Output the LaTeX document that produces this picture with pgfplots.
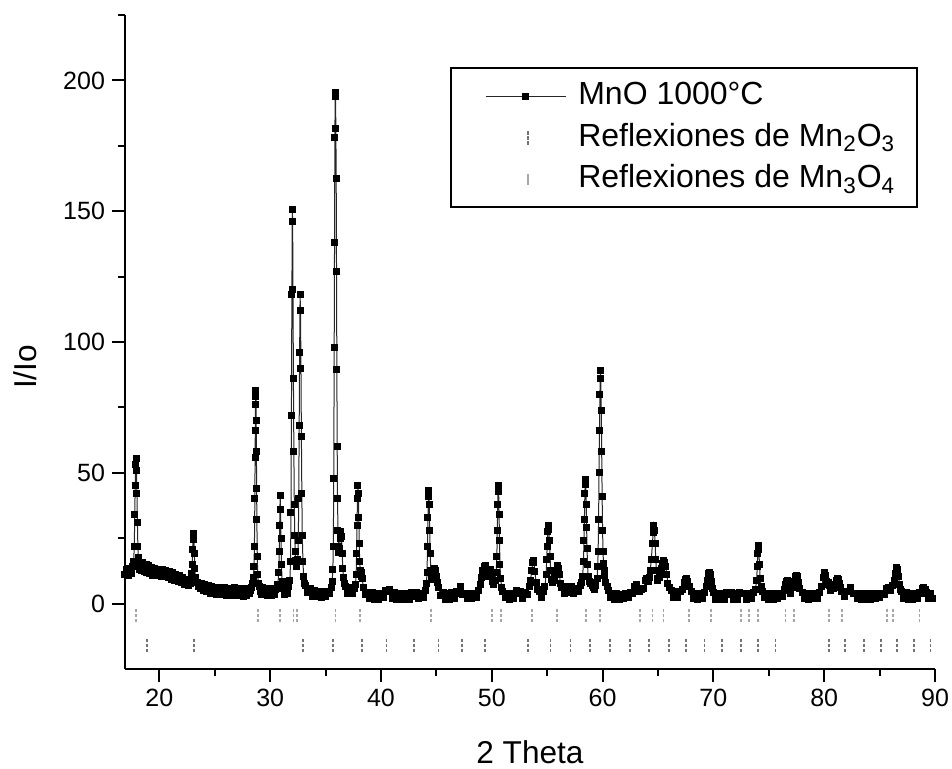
\documentclass[border=0pt]{standalone}
\usepackage{fontspec}
\setmainfont{Liberation Sans}
\usepackage{pgfplots}
\pgfplotsset{compat=1.18}
\pgfplotsset{mnoleg/.style={legend image code/.code={\path (-7pt,0pt); \draw[mark repeat=2,mark phase=2,##1] plot coordinates {(0pt,0pt) (20pt,0pt) (40pt,0pt)};}}}
\begin{document}
\begin{tikzpicture}
\begin{axis}[name=ax, scale only axis, width=405pt, height=327pt,
 xmin=16.9, xmax=90, ymin=-25, ymax=225,
 axis x line*=bottom, axis y line*=left,
 axis line style={line width=1.1pt},
 xtick={20,30,...,90}, minor xtick={25,35,...,85},
 ytick={0,50,...,200}, minor ytick={25,75,...,225},
 tick align=outside, major tick length=6.5pt, minor tick length=3.5pt,
 tick style={line width=1pt, black},
 /pgf/number format/assume math mode=true,
 ticklabel style={font=\fontsize{12.5}{14}\selectfont},
 xlabel={2 Theta}, ylabel={I/Io},
 label style={font=\fontsize{15.8}{18}\selectfont},
 xlabel style={at={(axis description cs:0.5,0)}, anchor=north, yshift=-35.5pt, inner sep=0pt},
 ylabel style={at={(axis description cs:-0.1383,0.462)}, anchor=north, inner sep=0pt},
 legend cell align=left,
 legend style={at={(axis description cs:0.401,0.920)}, anchor=north west, draw=black, line width=1pt,
   font=\fontsize{16}{19}\selectfont, inner xsep=10pt, inner ysep=5.75pt, row sep=4.25pt, column sep=5pt,
   nodes={inner sep=1pt, text height=11.5pt, text depth=3pt}},
]
\addplot[black!85, line width=0.5pt, mark=square*, mark size=1.5pt, mark options={solid, fill=black, draw=black}, mnoleg]
coordinates {
(16.9,11.0)(17.0,13.2)(17.1,12.1)(17.2,10.9)(17.3,13.6)(17.4,12.4)(17.5,11.6)(17.6,14.2)(17.68,16.2)(17.74,22)(17.78,34)(17.82,45)(17.86,53)(17.9,55.3)(17.94,51)(17.98,42)(18.02,31)(18.06,22)(18.1,17.5)(18.16,15.4)
(18.2,15.6)(18.25,13.0)(18.3,14.4)(18.4,12.6)(18.45,15.8)(18.5,13.5)(18.6,14.9)(18.65,12.2)(18.7,13.8)(18.8,15.0)(18.85,12.0)(18.9,13.2)(19.0,14.4)(19.1,11.4)(19.2,12.8)(19.3,13.9)(19.4,10.9)(19.5,12.2)(19.6,13.6)(19.7,11.0)(19.8,12.4)(19.9,10.6)(20.0,13.2)(20.1,11.8)(20.2,10.4)(20.3,12.9)(20.4,11.5)(20.5,10.2)(20.6,12.6)(20.7,11.0)(20.8,9.9)(20.9,12.2)(21.0,10.8)(21.1,9.4)(21.2,11.8)(21.3,10.2)(21.4,8.9)(21.5,11.2)(21.6,9.6)(21.7,8.4)(21.8,10.6)(21.9,9.0)(22.0,7.9)(22.1,10.0)(22.2,8.4)(22.3,7.2)(22.4,9.4)(22.5,8.0)(22.6,6.9)(22.7,9.0)(22.8,7.8)
(22.9,11.5)(22.96,15)(23.0,20.5)(23.04,25)(23.08,26.7)(23.12,24.5)(23.16,19)(23.2,13.5)(23.26,9.8)(23.34,8.2)
(23.4,8.0)(23.5,6.4)(23.6,7.6)(23.7,5.6)(23.8,7.8)(23.9,6.2)(24.0,5.0)(24.1,7.2)(24.2,5.8)(24.3,4.5)(24.4,6.8)(24.5,5.4)(24.6,4.0)(24.7,6.5)(24.8,5.0)(24.9,3.7)(25.0,6.3)(25.1,4.8)(25.2,3.5)(25.3,6.2)(25.4,4.6)(25.5,3.4)(25.6,6.0)(25.7,4.5)(25.8,3.3)(25.9,6.1)(26.0,4.4)(26.1,3.2)(26.2,5.9)(26.3,4.6)(26.4,3.1)(26.5,5.8)(26.6,4.2)(26.7,3.2)(26.8,6.0)(26.9,4.5)(27.0,3.0)(27.1,5.7)(27.2,4.2)(27.3,3.0)(27.4,5.6)(27.5,4.0)(27.6,2.9)(27.7,5.8)(27.8,4.3)(27.9,3.1)(28.0,5.5)(28.1,4.0)(28.2,5.2)
(28.3,6.2)(28.4,7.5)(28.48,9.8)(28.54,14)(28.58,22)(28.62,40)(28.64,56)(28.66,66)(28.68,76)(28.7,81.4)(28.72,79)(28.74,70)(28.76,58)(28.78,44)(28.8,32)(28.84,18)(28.88,11)(28.94,7.5)
(29.0,6.4)(29.1,4.6)(29.2,3.6)(29.3,6.0)(29.4,4.4)(29.5,3.4)(29.6,5.8)(29.7,4.2)(29.8,3.2)(29.9,5.7)(30.0,4.3)(30.1,3.1)(30.2,5.6)(30.3,4.0)(30.4,3.4)(30.5,5.4)(30.6,5.9)
(30.7,7.4)(30.78,12)(30.82,20)(30.86,30)(30.9,41.3)(30.94,36)(30.98,25)(31.02,15)(31.08,8.5)(31.16,5.6)(31.3,3.4)(31.5,5.2)(31.6,3.9)(31.7,6.5)(31.78,9)(31.84,16)(31.88,35)(31.92,72)(31.96,118)(32.0,150.8)(32.03,146)(32.06,120)(32.1,86)(32.14,58)(32.18,38)(32.22,26)(32.26,20)(32.3,16.5)(32.36,15)(32.42,14)(32.48,17)(32.54,24)(32.58,40)(32.62,68)(32.66,96)(32.7,118)(32.74,112)(32.78,90)(32.82,64)(32.86,42)(32.9,26)(32.96,16)(33.02,10.5)(33.1,7.8)(33.2,6.8)(33.4,4.2)(33.6,5.6)(33.8,2.9)(34.0,5.0)(34.2,2.6)(34.4,4.7)(34.6,2.5)(34.8,4.6)(35.0,2.6)(35.2,4.8)(35.4,3.9)(35.52,6.2)(35.6,8.5)(35.66,13)(35.7,22)(35.74,48)(35.78,98)(35.81,138)(35.84,178)(35.87,195.3)(35.9,193.8)(35.93,181.6)(35.96,162.5)(35.99,127)(36.02,89.6)(36.05,60)(36.08,40)(36.12,28)(36.16,22)(36.2,19.5)(36.26,21)(36.32,25)(36.38,27.5)(36.44,25.5)(36.5,19)(36.56,13.5)(36.62,10)(36.7,7.6)(36.8,6.4)(37.0,4.0)(37.2,6.2)(37.4,3.8)(37.6,5.9)(37.7,7.2)(37.76,11)(37.8,19)(37.84,30)(37.88,40)(37.92,45.2)(37.96,42)(38.0,33)(38.04,23)(38.08,16)(38.14,12.5)(38.2,10.5)(38.26,12)(38.32,9.5)(38.4,6.2)(38.6,3.4)(38.8,4.4)(39.0,1.9)(39.2,4.2)(39.4,1.7)(39.6,4.0)(39.8,1.6)(40.0,3.8)(40.2,2.4)(40.4,5.2)(40.6,4.6)(40.8,5.4)(41.0,2.0)(41.2,4.1)(41.4,1.5)(41.6,3.9)(41.8,1.6)(42.0,4.0)(42.2,1.7)(42.4,3.8)(42.6,1.5)(42.8,4.3)(43.0,2.6)(43.2,4.2)(43.4,1.8)(43.6,3.9)(43.8,2.4)(44.0,5.1)(44.1,7.5)(44.16,12)(44.2,22)(44.24,33)(44.28,41)(44.32,43.3)(44.36,38)(44.4,28)(44.44,19)(44.5,12.5)(44.56,10)(44.62,9.2)(44.7,10.5)(44.78,12.2)(44.86,13.4)(44.94,12.8)(45.02,10.5)(45.1,8)(45.2,6)(45.4,3.2)(45.6,4.2)(45.8,1.6)(46.0,4.0)(46.2,1.7)(46.4,4.1)(46.6,1.9)(46.8,4.6)(47.0,3.8)(47.2,6.4)(47.4,3.6)(47.6,4.0)(47.8,1.9)(48.0,3.8)(48.2,1.8)(48.4,4.0)(48.6,2.4)(48.8,5.2)(49.0,7.2)(49.1,10)(49.2,12.8)(49.3,14.1)(49.4,14.6)(49.5,13)(49.6,10.5)(49.7,11.2)(49.8,12.6)(49.9,13)(50.0,10.8)(50.1,8.5)(50.2,7.2)(50.3,8.8)(50.4,12)(50.46,18)(50.5,28)(50.54,38)(50.58,45.2)(50.62,43)(50.66,34)(50.7,24)(50.74,15)(50.8,9.5)(50.9,6.2)(51.0,4.5)(51.2,2.2)(51.4,3.8)(51.6,1.7)(51.8,3.9)(52.0,2.1)(52.2,4.9)(52.4,3.8)(52.6,4.6)(52.8,1.9)(53.0,4.4)(53.2,3.6)(53.4,6.5)(53.5,9)(53.6,12.5)(53.7,15.6)(53.75,16.5)(53.8,15.8)(53.9,12.2)(54.0,8.0)(54.1,5.4)(54.3,4.8)(54.5,2.2)(54.7,4.6)(54.8,6.5)(54.9,11)(54.96,17)(55.0,22)(55.06,27.5)(55.1,29.9)(55.16,28.5)(55.2,24)(55.26,18)(55.32,12.5)(55.4,9.2)(55.5,8)(55.6,8.8)(55.7,10.5)(55.8,12.8)(55.9,14.2)(55.96,14.6)(56.02,13.5)(56.1,11)(56.2,7.8)(56.3,6)(56.4,6.0)(56.6,3.8)(56.8,6.4)(57.0,4.2)(57.2,6.6)(57.4,3.7)(57.6,5.9)(57.8,4.6)(58.0,7.0)(58.1,8.2)(58.2,10.5)(58.28,16)(58.32,24)(58.36,32)(58.4,42)(58.44,47.3)(58.48,45.5)(58.52,38)(58.56,29)(58.6,21)(58.64,15)(58.7,10.5)(58.8,8.5)(58.9,7.5)(59.0,8.2)(59.1,7.0)(59.2,6.2)(59.3,5.5)(59.4,6.8)(59.5,9.5)(59.56,14)(59.6,20)(59.64,32)(59.68,50)(59.72,66)(59.76,80)(59.8,89)(59.84,86)(59.88,74)(59.92,58)(59.96,41)(60.0,28)(60.04,20)(60.08,15.5)(60.14,12.5)(60.2,10.6)(60.3,8.2)(60.4,6.5)(60.5,5.2)(60.7,2.4)(60.9,4.0)(61.1,1.6)(61.3,3.8)(61.5,1.5)(61.7,3.6)(61.9,1.8)(62.1,4.0)(62.3,2.2)(62.5,4.4)(62.7,3.8)(62.9,6.6)(63.1,7.2)(63.3,4.8)(63.5,5.4)(63.7,5.8)(63.9,8.8)(64.0,9.5)(64.1,8.5)(64.2,9.8)(64.3,12.5)(64.4,17)(64.5,23)(64.56,27)(64.62,29.9)(64.68,28)(64.74,23)(64.8,17)(64.86,12.5)(64.94,9.5)(65.0,8.8)(65.1,9.8)(65.2,11.8)(65.3,13.5)(65.4,15.2)(65.5,16.5)(65.6,15.8)(65.7,14.2)(65.8,11)(65.9,7.8)(66.0,6.2)(66.2,5.0)(66.4,2.4)(66.6,4.6)(66.8,2.2)(67.0,4.5)(67.2,5.5)(67.4,8.0)(67.5,9.2)(67.6,9.5)(67.7,8.4)(67.8,6.5)(68.0,4.6)(68.2,1.8)(68.4,4.0)(68.6,1.6)(68.8,3.9)(69.0,2.0)(69.2,4.4)(69.4,6.5)(69.5,9.0)(69.6,11.4)(69.65,11.8)(69.7,11.2)(69.8,8.4)(69.9,5.8)(70.0,4.4)(70.2,1.6)(70.4,3.9)(70.6,1.4)(70.8,3.8)(71.0,1.7)(71.2,4.2)(71.4,3.6)(71.6,4.4)(71.8,1.5)(72.0,3.7)(72.2,1.6)(72.4,4.3)(72.6,3.8)(72.8,4.0)(73.0,1.6)(73.2,3.9)(73.4,1.8)(73.6,4.2)(73.8,5.5)(73.9,9)(73.96,14)(74.0,19)(74.06,22.3)(74.1,20.5)(74.16,15)(74.22,9.5)(74.3,6.4)(74.4,4.8)(74.6,2.2)(74.8,3.9)(75.0,1.6)(75.2,3.7)(75.4,1.5)(75.6,3.8)(75.8,1.9)(76.0,4.0)(76.2,2.8)(76.4,5.5)(76.5,7.4)(76.6,8.6)(76.7,8.9)(76.8,7.2)(76.9,5.0)(77.0,4.0)(77.2,6.2)(77.3,8.5)(77.4,10.2)(77.5,10.8)(77.6,10.5)(77.7,8.2)(77.8,5.6)(78.0,4.4)(78.2,1.8)(78.4,4.0)(78.6,1.5)(78.8,3.8)(79.0,1.8)(79.2,4.0)(79.4,2.0)(79.6,4.4)(79.8,6.5)(79.9,9.8)(80.0,11.8)(80.1,10.8)(80.2,8.5)(80.3,7.4)(80.4,8.2)(80.5,6.8)(80.6,5.2)(80.8,5.8)(81.0,7.4)(81.1,8.8)(81.2,9.5)(81.3,9.2)(81.4,7.8)(81.5,6.0)(81.6,4.6)(81.8,2.6)(82.0,4.6)(82.2,4.8)(82.4,6.0)(82.6,3.8)(82.8,4.0)(83.0,1.8)(83.2,3.9)(83.4,1.6)(83.6,3.8)(83.8,1.5)(84.0,3.7)(84.2,1.7)(84.4,4.0)(84.6,1.8)(84.8,3.8)(85.0,2.2)(85.2,4.0)(85.4,3.4)(85.6,5.6)(85.8,6.0)(86.0,5.2)(86.2,6.8)(86.3,9.0)(86.4,11.5)(86.5,13.2)(86.55,13.7)(86.6,13.1)(86.7,10.5)(86.8,7.2)(86.9,5.4)(87.0,4.6)(87.2,2.0)(87.4,4.2)(87.6,1.7)(87.8,3.9)(88.0,1.6)(88.2,4.0)(88.4,1.9)(88.6,4.2)(88.8,4.0)(88.9,5.8)(89.0,6.2)(89.1,5.4)(89.2,4.4)(89.4,1.8)(89.6,3.9)(89.8,2.0)
};
\addlegendentry{MnO 1000°C}
\addplot[only marks, mark=|, mark size=3.6pt, black!55, mark options={line width=0.9pt, dash pattern=on 1.8pt off 0.7pt},
 legend image code/.code={\path (-7pt,0pt); \draw[black!55, line width=0.9pt, dash pattern=on 1.8pt off 0.7pt] (21pt,-3.4pt) -- (21pt,3.4pt);}]
coordinates {
(18.9,-16.2)(23.1,-16.2)(33.0,-16.2)(35.7,-16.2)(38.3,-16.2)(40.5,-16.2)(43.0,-16.2)(45.2,-16.2)(47.3,-16.2)(49.4,-16.2)(53.3,-16.2)(55.3,-16.2)(57.1,-16.2)(58.9,-16.2)(60.7,-16.2)(62.5,-16.2)(64.2,-16.2)(66.0,-16.2)(67.5,-16.2)(69.2,-16.2)(70.8,-16.2)(72.5,-16.2)(74.0,-16.2)(75.6,-16.2)(80.4,-16.2)(81.9,-16.2)(83.6,-16.2)(85.1,-16.2)(86.6,-16.2)(88.1,-16.2)(89.6,-16.2)
};
\addlegendentry{Reflexiones de Mn\textsubscript{2}O\textsubscript{3}}
\addplot[only marks, mark=|, mark size=3.7pt, black!35, mark options={line width=0.9pt, dash pattern=on 1.8pt off 0.7pt},
 legend image code/.code={\path (-7pt,0pt); \draw[black!35, line width=0.9pt] (21pt,-2.8pt) -- (21pt,2.8pt);}]
coordinates {
(17.9,-4.7)(28.9,-4.7)(30.9,-4.7)(32.1,-4.7)(32.4,-4.7)(35.9,-4.7)(38.1,-4.7)(44.5,-4.7)(50.0,-4.7)(50.8,-4.7)(53.6,-4.7)(55.9,-4.7)(58.5,-4.7)(59.8,-4.7)(63.4,-4.7)(64.5,-4.7)(65.5,-4.7)(67.8,-4.7)(69.8,-4.7)(72.5,-4.7)(73.2,-4.7)(74.0,-4.7)(76.5,-4.7)(77.3,-4.7)(80.4,-4.7)(81.6,-4.7)(85.7,-4.7)(86.2,-4.7)(88.6,-4.7)
};
\addlegendentry{Reflexiones de Mn\textsubscript{3}O\textsubscript{4}}
\end{axis}
\pgfresetboundingbox
\path ([shift={(-62.5pt,-49.5pt)}]ax.south west) rectangle ([shift={(8.5pt,7.5pt)}]ax.north east);
\end{tikzpicture}
\end{document}
